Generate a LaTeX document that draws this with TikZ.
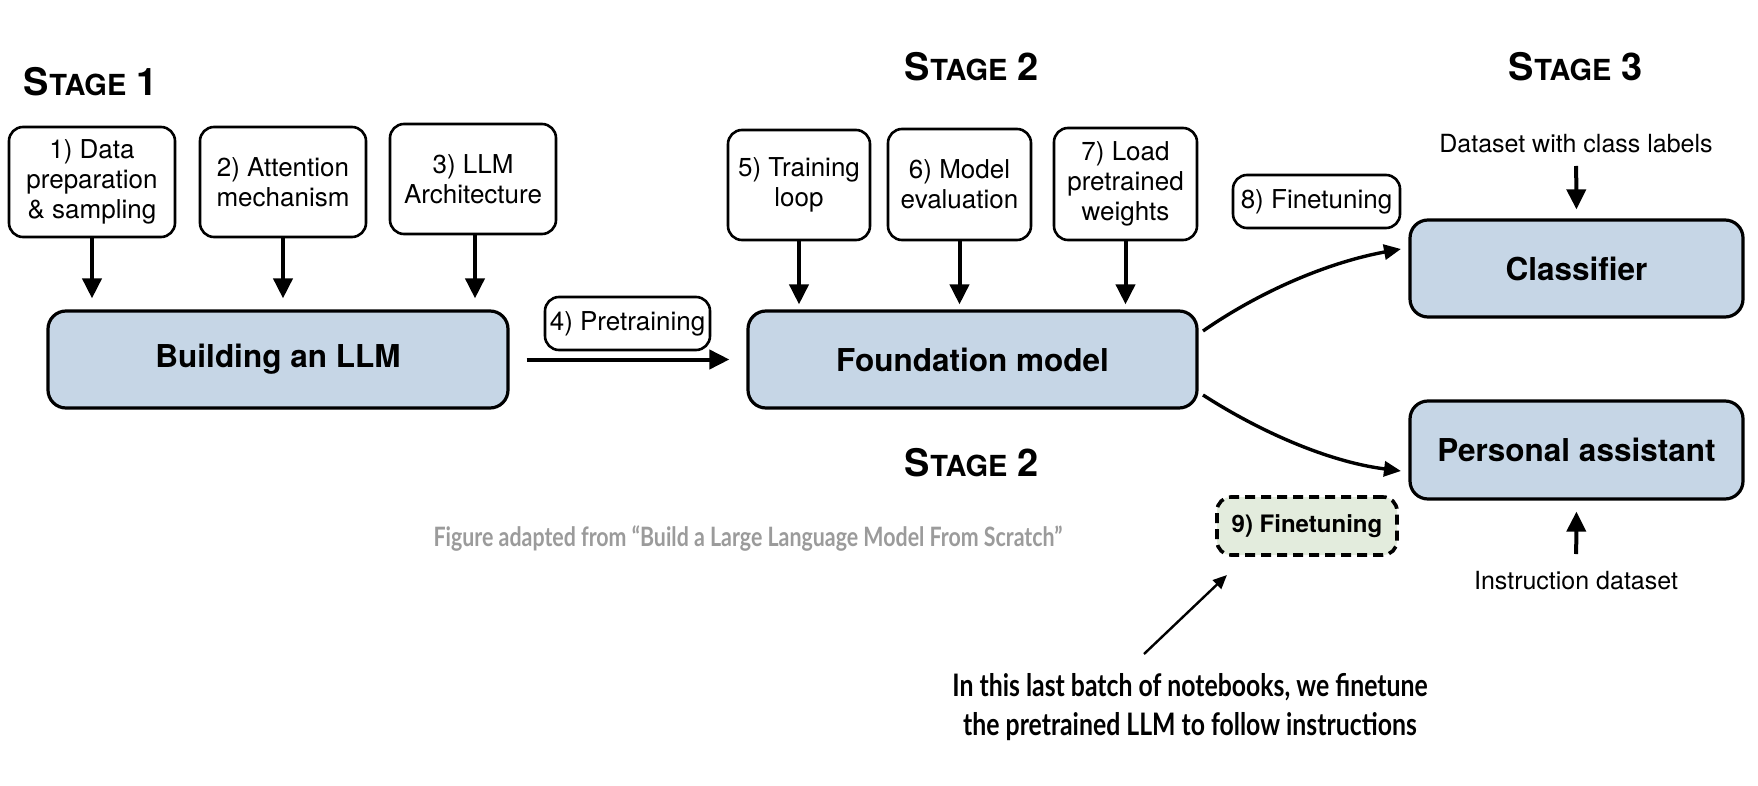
\documentclass[tikz,border=0pt]{standalone}
\usepackage{fontspec}
\setmainfont{TeX Gyre Heros}
\newfontfamily\gillfont[FakeStretch=0.8]{Lato}
\usetikzlibrary{arrows.meta}
\definecolor{boxblue}{RGB}{198,214,230}
\definecolor{boxgreen}{RGB}{227,236,221}
\definecolor{capgray}{RGB}{155,155,155}
\newcommand{\stagelbl}[1]{{\bfseries\fontsize{38}{38}\selectfont S}{\bfseries\fontsize{29}{29}\selectfont TAGE}{\bfseries\fontsize{38}{38}\selectfont\ #1}}
\tikzset{
  smallbox/.style={draw, line width=2.6pt, rounded corners=14pt, align=center, inner sep=0pt,
    font=\fontsize{26}{29.7}\selectfont},
  bigbox/.style={draw, fill=boxblue, line width=3.2pt, rounded corners=18pt, inner sep=0pt,
    minimum height=97pt, font=\bfseries\fontsize{31.5}{36}\selectfont},
  lbl/.style={inner sep=0pt, font=\fontsize{25}{28}\selectfont},
  stagelabel/.style={inner sep=0pt},
  arr/.style={line width=4pt, -{Triangle[length=20pt,width=19pt]}},
  carr/.style={line width=3.4pt, -{Triangle[length=17pt,width=15pt]}},
  thinarr/.style={line width=2.4pt, -{Triangle[length=14pt,width=12pt]}},
}
\begin{document}
\begin{tikzpicture}[x=1pt,y=-1pt]
\fill[white] (0,0) rectangle (1758,786);
\useasboundingbox (0,0) rectangle (1758,786);

% Stage labels
\node[stagelabel] (s1) at (91,82) {\stagelbl{1}};
\node[stagelabel] (s2a) at (972,67) {\stagelbl{2}};
\node[stagelabel] (s3) at (1576,67) {\stagelbl{3}};
\node[stagelabel] (s2b) at (972,463) {\stagelbl{2}};

% Stage 1 boxes
\node[smallbox, minimum width=166pt, minimum height=110pt] (b1) at (92,182) {1) Data\\preparation\\\& sampling};
\node[smallbox, minimum width=166pt, minimum height=110pt] (b2) at (283,182) {2) Attention\\mechanism};
\node[smallbox, minimum width=166pt, minimum height=110pt] (b3) at (473,179) {3) LLM\\Architecture};
\node[bigbox, minimum width=460pt] (build) at (278,359.5) {Building an LLM};

% Pretraining
\node[smallbox, minimum width=165pt, minimum height=53pt] (pre) at (627.5,323.5) {4) Pretraining};
\node[bigbox, minimum width=449pt] (found) at (972.5,359.5) {Foundation model};

% Stage 2 boxes
\node[smallbox, minimum width=142pt, minimum height=110pt] (b5) at (799,185) {5) Training\\loop};
\node[smallbox, minimum width=143pt, minimum height=111pt] (b6) at (959.5,184.5) {6) Model\\evaluation};
\node[smallbox, minimum width=143pt, minimum height=112pt] (b7) at (1125.5,184) {7) Load\\pretrained\\weights};

% Stage 3
\node[smallbox, minimum width=167pt, minimum height=53pt] (ft8) at (1316.5,201.5) {8) Finetuning};
\node[bigbox, minimum width=333pt] (clf) at (1576.5,268.5) {Classifier};
\node[bigbox, minimum width=333pt, minimum height=98pt] (pa) at (1576.5,450) {Personal assistant};
\node[lbl] (dsl) at (1576,144) {Dataset with class labels};
\node[lbl] (ins) at (1576,581) {Instruction dataset};

% Finetuning 9
\node[draw, dashed, dash pattern=on 10pt off 6pt, fill=boxgreen, line width=3.6pt, rounded corners=14pt,
  minimum width=180pt, minimum height=58pt, inner sep=0pt, font=\bfseries\fontsize{24}{26}\selectfont] (ft9) at (1307,526) {9) Finetuning};

% Caption and annotation
\node[inner sep=0pt, text=capgray, font=\gillfont\bfseries\fontsize{26.7}{30}\selectfont] (cap) at (748,538)
  {Figure adapted from “Build a Large Language Model From Scratch”};
\node[inner sep=0pt, align=center, font=\gillfont\bfseries\fontsize{31}{39}\selectfont] (note) at (1190,707)
  {In this last batch of notebooks, we finetune\\the pretrained LLM to follow instructions};

% Arrows stage 1
\draw[arr, shorten >=11pt] (b1.south) -- (b1.south |- build.north);
\draw[arr, shorten >=11pt] (b2.south) -- (b2.south |- build.north);
\draw[arr, shorten >=11pt] ([xshift=2pt]b3.south) -- ([xshift=2pt]b3.south |- build.north);
\draw[arr, shorten <=17pt, shorten >=17pt] (build.east) -- (found.west);

% Arrows stage 2
\draw[arr, shorten >=5pt] (b5.south) -- (b5.south |- found.north);
\draw[arr, shorten >=5pt] (b6.south) -- (b6.south |- found.north);
\draw[arr, shorten >=5pt] (b7.south) -- (b7.south |- found.north);

% Curved arrows
\coordinate (c1s) at (1203,331);
\coordinate (c1e) at (1401,249);
\coordinate (c2s) at (1203,395);
\coordinate (c2e) at (1401,471);
\draw[carr] (c1s) .. controls (1262,290) and (1330,262) .. (c1e);
\draw[carr] (c2s) .. controls (1262,433) and (1330,462) .. (c2e);

% Stage 3 input arrows
\draw[arr, shorten <=22pt, shorten >=9pt] (dsl.center) -- (clf.north);
\draw[arr, shorten <=27pt, shorten >=11pt] (ins.center) -- (pa.south);

% Annotation arrow
\coordinate (n1) at (1144,654);
\coordinate (n2) at (1227,575);
\draw[thinarr] (n1) -- (n2);
\end{tikzpicture}
\end{document}
